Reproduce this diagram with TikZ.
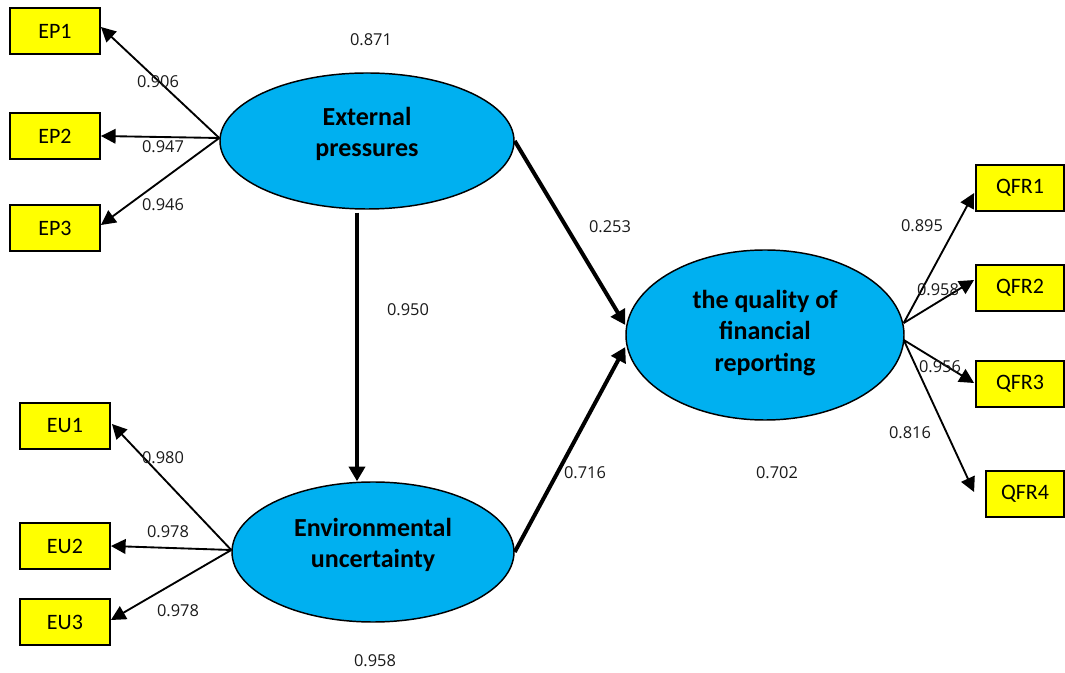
\documentclass[tikz,border=0pt]{standalone}
\usepackage{fontspec}
\setmainfont{Carlito}
\newfontfamily\numfont{Open Sans}
\usetikzlibrary{arrows.meta,shapes.geometric,calc}
\definecolor{lvblue}{HTML}{00B0F0}
\definecolor{indyellow}{HTML}{FFFF00}
\definecolor{numgray}{HTML}{1A1A1A}
\begin{document}
\begin{tikzpicture}[x=0.75pt,y=-0.75pt,
  ind/.style={draw=black, line width=1.4pt, fill=indyellow, minimum width=67.5pt, minimum height=34.5pt, inner sep=0pt, font=\fontsize{16.5}{19}\selectfont},
  lv/.style={ellipse, draw=black, line width=1.1pt, fill=lvblue, inner sep=0pt},
  lvtext/.style={font=\fontsize{19.5}{23.5}\selectfont\bfseries, align=center, inner sep=0pt},
  num/.style={font=\numfont\fontsize{12.3}{14}\selectfont, text=numgray, inner sep=0pt},
  meas/.style={line width=1.4pt, -{Triangle[length=11pt,width=11pt]}},
  struct/.style={line width=3pt, -{Triangle[length=11pt,width=12pt]}}]
\useasboundingbox (0,0) rectangle (1065,673);

% latent variables
\node[lv, minimum width=220.5pt, minimum height=102pt] (EP) at (367,141) {};
\node[lv, minimum width=211.5pt, minimum height=105pt] (EU) at (373,552) {};
\node[lv, minimum width=208.5pt, minimum height=127.5pt] (Q) at (765,335) {};
\node[lvtext] (EPt) at (367,134) {External\\pressures};
\node[lvtext] (EUt) at (373,545) {Environmental\\uncertainty};
\node[lvtext] (Qt) at (765,333) {the quality of\\financial\\reporting};

% indicators
\node[ind] (EP1) at (55,31) {EP1};
\node[ind] (EP2) at (55,136) {EP2};
\node[ind] (EP3) at (55,228) {EP3};
\node[ind] (EU1) at (65,426) {EU1};
\node[ind] (EU2) at (65,546) {EU2};
\node[ind] (EU3) at (65,622) {EU3};
\node[ind, minimum width=66pt] (QFR1) at (1020,188) {QFR1};
\node[ind, minimum width=66pt] (QFR2) at (1020,288) {QFR2};
\node[ind, minimum width=66pt] (QFR3) at (1020,384) {QFR3};
\node[ind, minimum width=58.5pt] (QFR4) at (1025,494) {QFR4};

% anchor points
\coordinate (epo) at ($(EP.west)+(0,-3)$);
\coordinate (euo) at ($(EU.west)+(0,-2)$);
\coordinate (qa) at ($(Q.east)+(-1,-12)$);
\coordinate (qb) at ($(Q.east)+(-1,5)$);
\coordinate (eps) at ($(EP.south)+(-10,3)$);
\coordinate (eun) at ($(EU.north)+(-16,0)$);
\coordinate (q1) at ($(QFR1.west)+(-1,5)$);
\coordinate (q2) at ($(QFR2.west)+(-1,-8)$);
\coordinate (q3) at ($(QFR3.west)+(-1,-1)$);
\coordinate (q4) at ($(QFR4.west)+(-11,-2)$);
\coordinate (qin1) at ($(Q.west)+(0,-10)$);
\coordinate (qin2) at ($(Q.west)+(0,12)$);

% measurement arrows
\draw[meas] (epo) -- ($(EP1.east)+(0,-4)$);
\draw[meas] (epo) -- (EP2.east);
\draw[meas] (epo) -- ($(EP3.east)+(0,-3)$);
\draw[meas] (euo) -- ($(EU1.east)+(1,-2)$);
\draw[meas] (euo) -- (EU2.east);
\draw[meas] (euo) -- ($(EU3.east)+(0,-2)$);
\draw[meas] (qa) -- (q1);
\draw[meas] (qa) -- (q2);
\draw[meas] (qb) -- (q3);
\draw[meas] (qb) -- (q4);

% structural arrows
\draw[struct] (EP.east) -- (qin1);
\draw[struct] (EU.east) -- (qin2);
\draw[struct] (eps) -- (eun);

% numbers
\node[num] (n1) at (371,40) {0.871};
\node[num] (n2) at (158,82) {0.906};
\node[num] (n3) at (163,147) {0.947};
\node[num] (n4) at (163,205) {0.946};
\node[num] (n5) at (610,227) {0.253};
\node[num] (n6) at (408,310) {0.950};
\node[num] (n7) at (163,458) {0.980};
\node[num] (n8) at (168,532) {0.978};
\node[num] (n9) at (178,611) {0.978};
\node[num] (n10) at (375,661) {0.958};
\node[num] (n11) at (585,473) {0.716};
\node[num] (n12) at (777,473) {0.702};
\node[num] (n13) at (922,226) {0.895};
\node[num] (n14) at (938,290) {0.958};
\node[num] (n15) at (940,367) {0.956};
\node[num] (n16) at (910,433) {0.816};
\end{tikzpicture}
\end{document}
